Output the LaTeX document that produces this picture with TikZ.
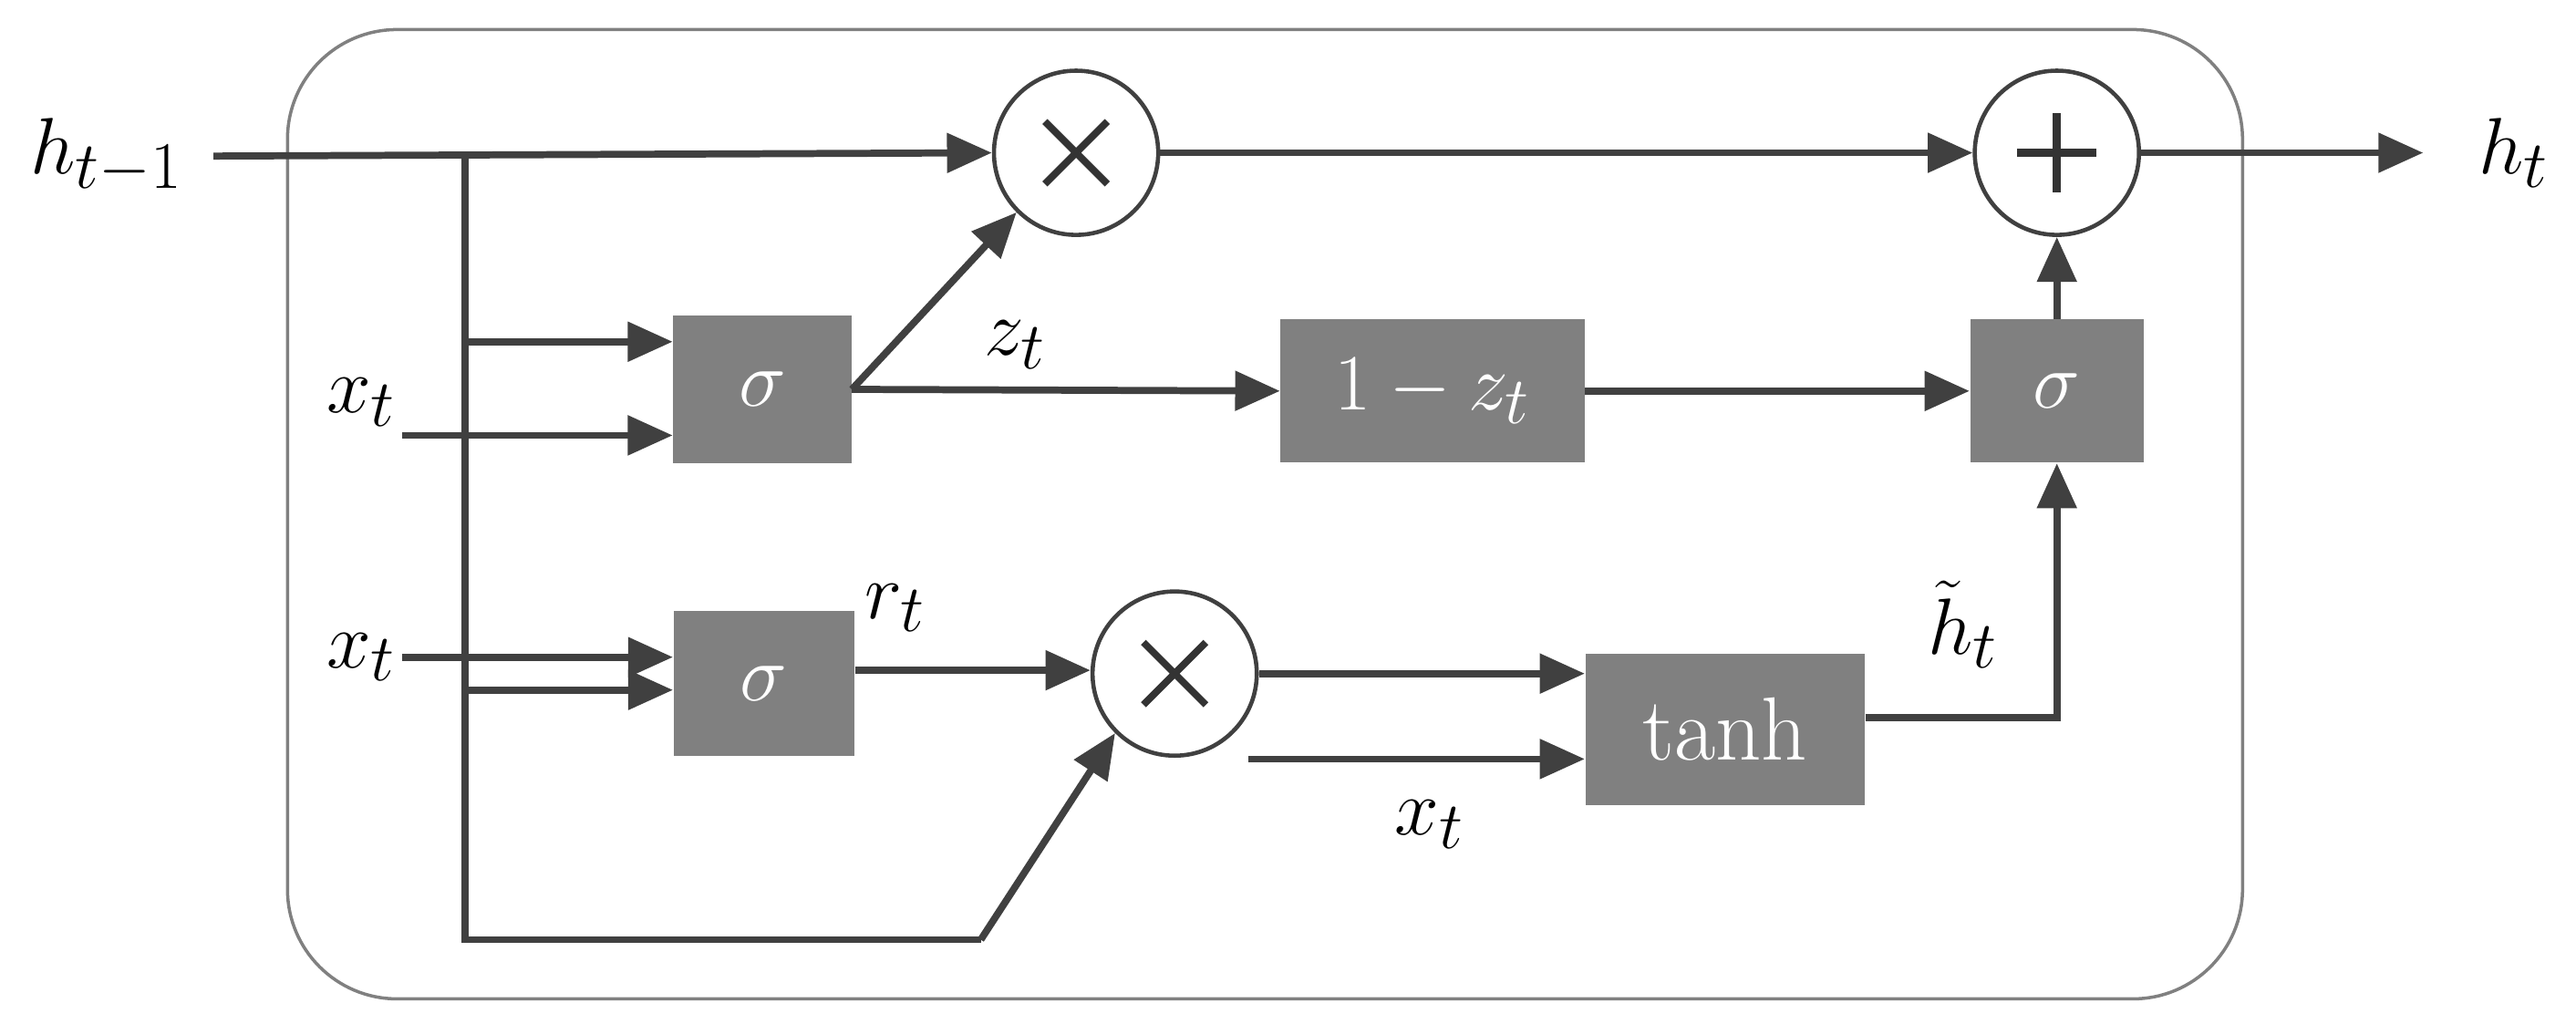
\documentclass[tikz,border=0pt]{standalone}
\usetikzlibrary{arrows.meta}
\begin{document}
\begin{tikzpicture}[x=0.018cm,y=-0.018cm,
  ln/.style={draw=black!75,line width=2.2pt},
  ar/.style={ln,-{Triangle[length=14pt,width=12pt]}},
  box/.style={fill=black!50,text=white,inner sep=0pt,font=\fontsize{28}{32}\selectfont},
  op/.style={circle,draw=black!75,line width=1.3pt,fill=white,minimum size=1.8cm,inner sep=0pt,font=\fontsize{40}{44}\selectfont},
  lab/.style={font=\fontsize{30}{34}\selectfont}]
\useasboundingbox (0,0) rectangle (1568,623);
\draw[black!50,line width=1pt,rounded corners=1.2cm] (175,18) rectangle (1365,608);
\node[lab] (hin) at (65,95) {$h_{t-1}$};
\node[op] (m1) at (655,93) {};
\node[op] (pl) at (1252,93) {};
\draw[black!80,line width=2.2pt] ([shift={(-19,-19)}]m1.center) -- ([shift={(19,19)}]m1.center) ([shift={(-19,19)}]m1.center) -- ([shift={(19,-19)}]m1.center);
\draw[black!80,line width=2.6pt] ([shift={(-24,0)}]pl.center) -- ([shift={(24,0)}]pl.center) ([shift={(0,-24)}]pl.center) -- ([shift={(0,24)}]pl.center);
\node[lab] (hout) at (1530,93) {$h_t$};
\node[box,minimum width=1.95cm,minimum height=1.62cm] (s1) at (464,237) {$\sigma$};
\node[box,minimum width=3.33cm,minimum height=1.57cm] (oz) at (872,238) {$1-z_t$};
\node[box,minimum width=1.9cm,minimum height=1.57cm] (s3) at (1252,238) {$\sigma$};
\node[box,minimum width=1.98cm,minimum height=1.58cm] (s2) at (465,416) {$\sigma$};
\node[op] (m2) at (715,410) {};
\draw[black!80,line width=2.2pt] ([shift={(-19,-19)}]m2.center) -- ([shift={(19,19)}]m2.center) ([shift={(-19,19)}]m2.center) -- ([shift={(19,-19)}]m2.center);
\node[box,minimum width=3.06cm,minimum height=1.66cm] (th) at (1050,444) {tanh};
\node[lab] (x1) at (220,245) {$x_t$};
\node[lab] (x2) at (220,400) {$x_t$};
\node[lab] (x3) at (870,502) {$x_t$};
\node[lab] (zl) at (618,210) {$z_t$};
\node[lab] (rl) at (545,370) {$r_t$};
\node[lab] (hl) at (1195,380) {$\tilde{h}_t$};
\coordinate (a) at (283,95);
\coordinate (b) at (283,572);
\coordinate (c) at (597,572);
\draw[ar] (130,95) -- (m1.west);
\draw[ln] (a) -- (b) -- (c);
\draw[ar] (c) -- (m2.south west);
\draw[ar] (283,208) -- (s1.west|-0,208);
\draw[ar] (245,265) -- (s1.west|-0,265);
\draw[ar] (245,400) -- (s2.west|-0,400);
\draw[ar] (283,420) -- (s2.west|-0,420);
\draw[ar] (s1.east) -- (m1.south west);
\draw[ar] (s1.east) -- (oz.west);
\draw[ar] (oz.east) -- (s3.west);
\draw[ar] (s3.north) -- (pl.south);
\draw[ar] (m1.east) -- (pl.west);
\draw[ar] (pl.east) -- (1475,93);
\draw[ar] (s2.east|-0,408) -- (m2.west|-0,408);
\draw[ar] (m2.east) -- (th.west|-0,410);
\draw[ar] (760,462) -- (th.west|-0,462);
\draw[ar] (th.east|-0,437) -- (1252,437) -- (s3.south);
\end{tikzpicture}
\end{document}
